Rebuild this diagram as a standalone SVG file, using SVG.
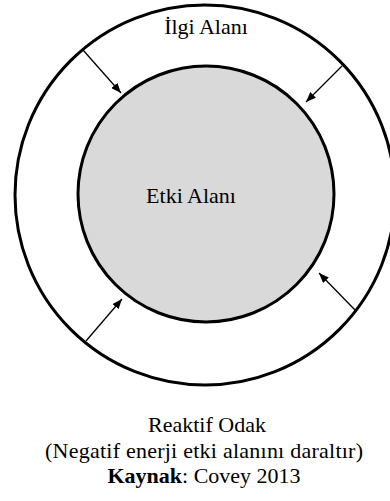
<svg xmlns="http://www.w3.org/2000/svg" width="390" height="501" viewBox="0 0 390 501">
  <style>
    .ring { fill: #ffffff; stroke: #000000; stroke-width: 3; }
    .core { fill: #d9d9d9; stroke: #000000; stroke-width: 3; }
    .conn { stroke: #000000; stroke-width: 1.3; fill: none; marker-end: url(#ah); }
    .lbl { font-family: "Liberation Serif", "Times New Roman", serif; font-size: 22px; fill: #000000; text-anchor: middle; }
  </style>
  <defs>
    <marker id="ah" viewBox="0 0 10 8" refX="10" refY="4" markerWidth="10" markerHeight="8" markerUnits="userSpaceOnUse" orient="auto">
      <path d="M0,0 L10,4 L0,8 Z" fill="#000000"/>
    </marker>
  </defs>
  <rect x="0" y="0" width="390" height="501" fill="#ffffff"/>
  <g id="ilgi-alani">
    <circle class="ring" cx="205" cy="195" r="190"/>
    <text class="lbl" x="206" y="34">İlgi Alanı</text>
  </g>
  <g id="etki-alani">
    <circle class="core" cx="206" cy="194" r="128"/>
    <text class="lbl" x="191" y="203">Etki Alanı</text>
  </g>
  <g id="connectors">
    <line class="conn" x1="83" y1="50" x2="121" y2="93"/>
    <line class="conn" x1="342" y1="66" x2="306" y2="102"/>
    <line class="conn" x1="86" y1="341" x2="122" y2="299"/>
    <line class="conn" x1="355" y1="310" x2="319" y2="273"/>
  </g>
  <g id="caption">
    <text class="lbl" x="207" y="432">Reaktif Odak</text>
    <text class="lbl" x="204" y="458" textLength="318" lengthAdjust="spacing">(Negatif enerji etki alanını daraltır)</text>
    <text class="lbl" x="204" y="483"><tspan font-weight="bold">Kaynak</tspan>: Covey 2013</text>
  </g>
</svg>
